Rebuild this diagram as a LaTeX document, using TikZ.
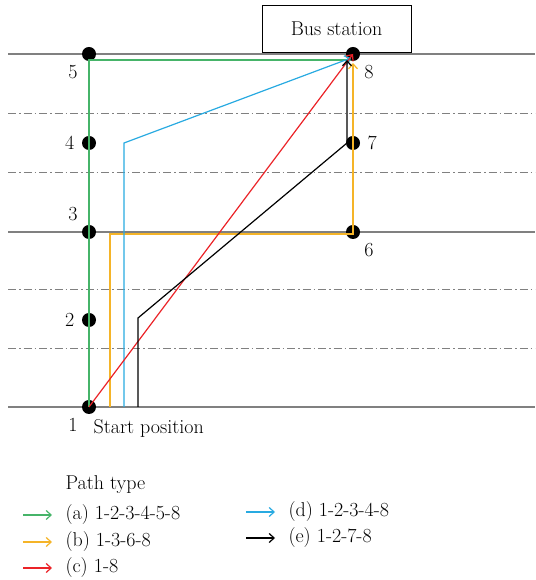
\documentclass[tikz,border=0pt]{standalone}
\usetikzlibrary{arrows.meta}
\definecolor{pgreen}{RGB}{70,180,105}
\definecolor{porange}{RGB}{245,180,40}
\definecolor{pblue}{RGB}{40,170,225}
\definecolor{pred}{RGB}{235,35,40}
\definecolor{road}{RGB}{128,128,128}
\tikzset{
  stop/.style={circle,fill=black,inner sep=0pt,minimum size=14pt},
  route/.style={line width=1.2pt,-{Straight Barb[length=5pt,width=9pt]}},
  lane/.style={road,line width=0.8pt,dash pattern=on 8pt off 3pt on 1.5pt off 3pt},
  txt/.style={font=\fontsize{20}{23}\selectfont}
}
\begin{document}
\begin{tikzpicture}[x=1pt,y=1pt,label distance=4pt,every label/.style={txt}]
   \useasboundingbox (0,0) rectangle (535,580);
   % roads
   \foreach \y in {526,348,173}
     \draw[road,line width=2pt] (8,\y) -- (535,\y);
   \foreach \y in {467,408,291,232}
     \draw[lane] (8,\y) -- (535,\y);
   \node[draw,line width=1pt,fill=white,minimum width=149pt,minimum height=47pt,
         anchor=south,txt] (bus) at (336.5,527) {Bus station};
   % stops
   \foreach \n/\x/\y/\p in
     { 1/89/173/below left,
       2/89/260/left,
       3/89/348/above left,
       4/89/437/left,
       5/89/526/below left,
       6/353/348/below right,
       7/353/437/right,
       8/353/526/below right
     }
     \node[stop,label={\p:\n}] (n\n) at (\x,\y) {};
   \node[txt,anchor=north west] (start) at (90,164) {Start position};
   % paths
   \draw[route,pgreen] (n1.center) -- ([yshift=-6pt]n5.center) -- ([xshift=-2pt,yshift=-6pt]n8.center);
   \draw[route,porange] ([xshift=21pt]n1.center) |- ([yshift=-2pt]n6.center) -- ([yshift=-9pt]n8.center);
   \draw[route,pblue] ([xshift=35pt]n1.center) -- ([xshift=35pt]n4.center) -- ([xshift=-2pt,yshift=-4pt]n8.center);
   \draw[route,pred] (n1.center) -- (n8.center);
   \draw[route,black] ([xshift=49pt]n1.center) -- ([xshift=49pt,yshift=2pt]n2.center)
     -- ([xshift=-6pt]n7.center) -- ([xshift=-6pt,yshift=-6pt]n8.center);
   % legend
   \node[txt,anchor=west] (ptype) at (62,95) {Path type};
   \foreach \l/\c/\t/\x/\y in
     { a/pgreen/{(a) 1-2-3-4-5-8}/62/65,
       b/porange/{(b) 1-3-6-8}/62/38,
       c/pred/{(c) 1-8}/62/12,
       d/pblue/{(d) 1-2-3-4-8}/285/68,
       e/black/{(e) 1-2-7-8}/285/42
     }
   {
     \node[txt,anchor=west] (l\l) at (\x,\y) {\t};
     \draw[route,\c] ([xshift=-39pt]l\l.west) -- ([xshift=-10pt]l\l.west);
   }
\end{tikzpicture}
\end{document}
